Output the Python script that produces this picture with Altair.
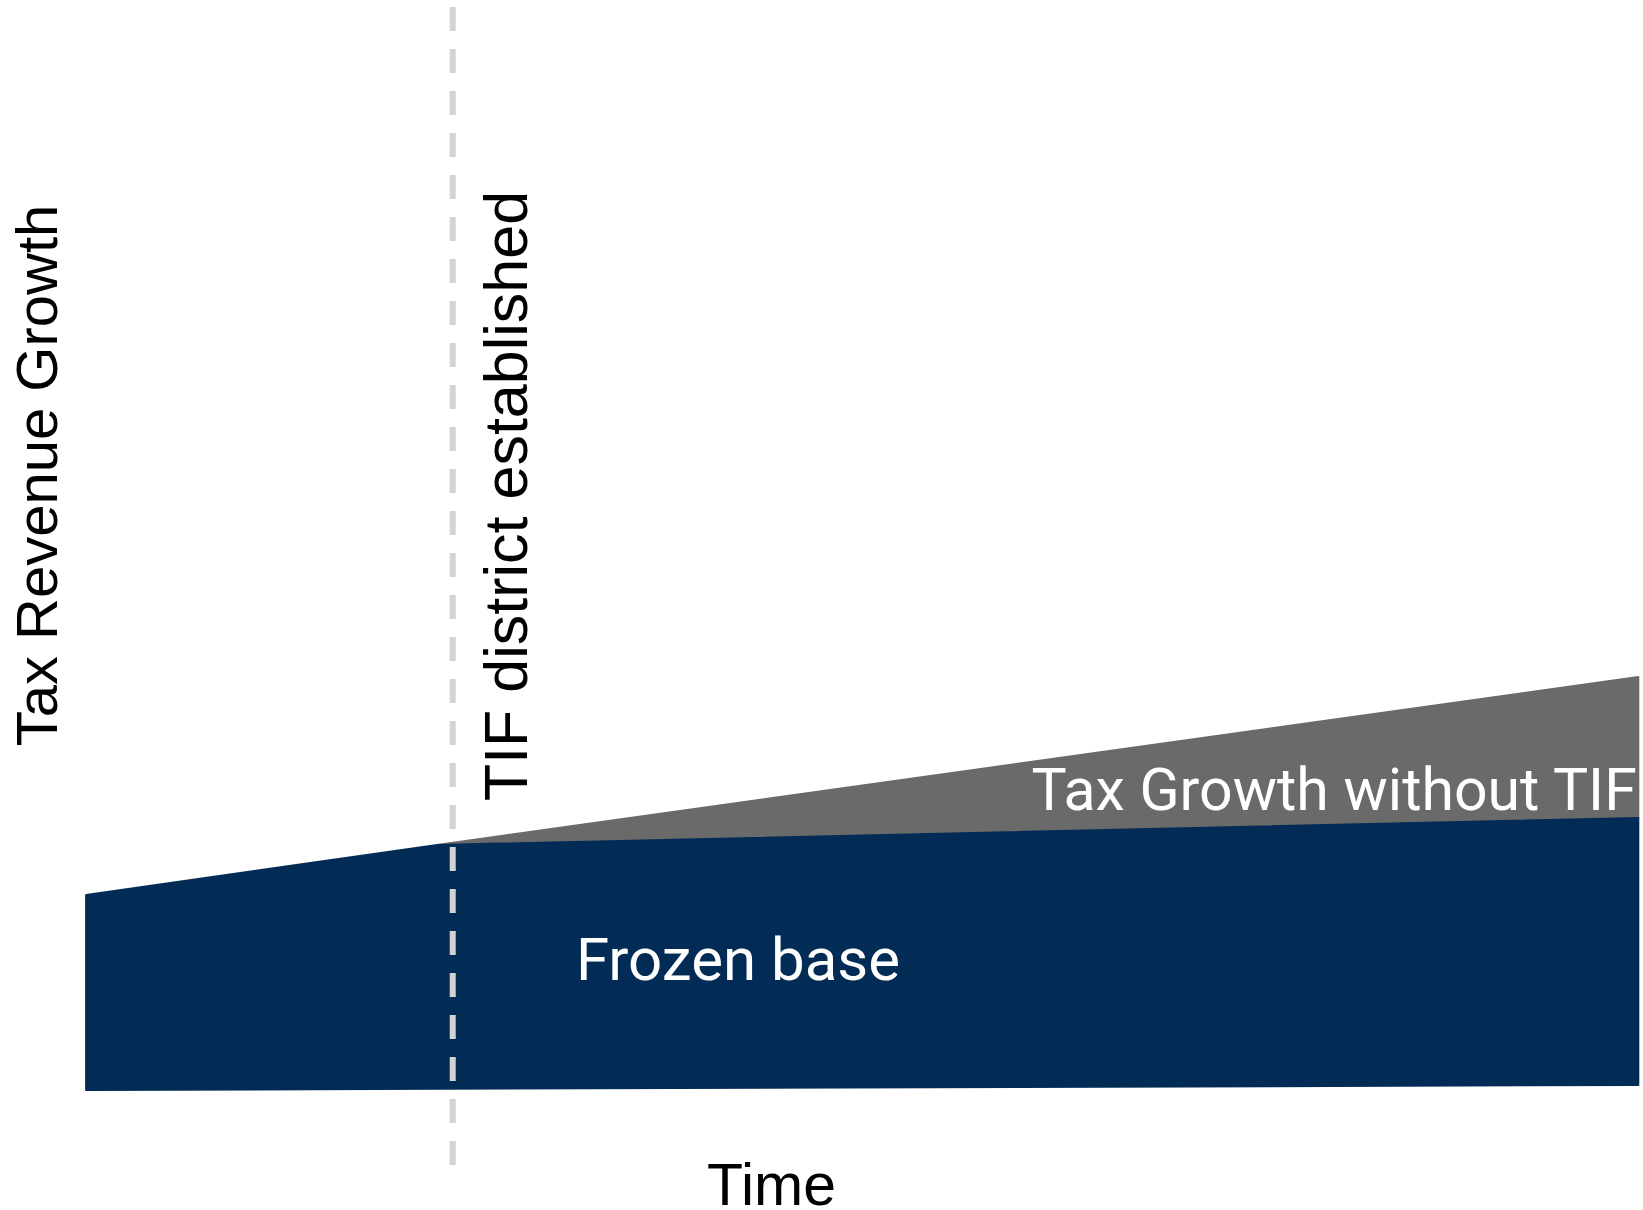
import altair as alt
import pandas as pd

# Schematic values (time units, revenue units)
time_pts = [0.02, 2.27, 9.97]
base_bottom = [0.0, 0.06, 0.25]
base_top = [9.75, 12.25, 13.6]
growth_time = [2.27, 9.97]
growth_low = [12.25, 13.6]
growth_high = [12.25, 20.65]
tif_time = [2.37]
tif_top = [54.15]
tif_bottom = [-3.75]

labels = ["Frozen base", "Tax Growth without TIF"]
label_t = [3.16, 9.96]
label_r = [5.5, 14.0]
label_align = ["left", "right"]

NAVY = "#022b55"
GRAY = "#6a6a6a"
DASH = "#d3d3d3"

x_scale = alt.Scale(domain=[0, 10], nice=False, zero=False)
y_scale = alt.Scale(domain=[0, 54.5], nice=False, zero=False)

base_df = pd.DataFrame({"t": time_pts, "lo": base_bottom, "hi": base_top})
growth_df = pd.DataFrame({"t": growth_time, "lo": growth_low, "hi": growth_high})
tif_df = pd.DataFrame({"t": tif_time, "top": tif_top, "bottom": tif_bottom,
                       "label": ["TIF district established"]})
lab_df = pd.DataFrame({"label": labels, "t": label_t, "r": label_r, "align": label_align})

x_enc = alt.X("t:Q", scale=x_scale,
              axis=alt.Axis(title="Time", labels=False, ticks=False, domain=False, grid=False,
                            titleFont="Liberation Sans", titleFontSize=59, titleFontWeight="normal",
                            titleColor="black", titleX=688, titleY=114,
                            titleBaseline="alphabetic", titleAlign="center"))
y_enc = alt.Y("lo:Q", scale=y_scale,
              axis=alt.Axis(title="Tax Revenue Growth", labels=False, ticks=False, domain=False,
                            grid=False, titleFont="Liberation Sans", titleFontSize=58,
                            titleFontWeight="normal", titleColor="black", titleX=-27, titleY=475,
                            titleBaseline="alphabetic", titleAlign="center", titleAngle=270))

base = alt.Chart(base_df).mark_area(color=NAVY, stroke=NAVY, strokeWidth=2,
                                    strokeJoin="round", interpolate="linear").encode(
    x=x_enc, y=y_enc, y2="hi:Q")

growth = alt.Chart(growth_df).mark_area(color=GRAY, stroke=GRAY, strokeWidth=2,
                                        strokeJoin="round", interpolate="linear").encode(
    x=alt.X("t:Q", scale=x_scale), y=alt.Y("lo:Q", scale=y_scale), y2="hi:Q")

rule = alt.Chart(tif_df).mark_rule(color=DASH, strokeWidth=6, strokeDash=[24, 18]).encode(
    x=alt.X("t:Q", scale=x_scale), y=alt.Y("top:Q", scale=y_scale), y2="bottom:Q")

tif_text = alt.Chart(tif_df).mark_text(angle=270, font="Liberation Sans", fontSize=61,
                                       color="black", align="center",
                                       baseline="alphabetic").encode(
    x=alt.value(527 - 83), y=alt.value(496), text="label:N")

frozen = alt.Chart(lab_df[lab_df["align"] == "left"]).mark_text(
    font="Roboto", fontSize=60, color="white", align="left", baseline="alphabetic").encode(
    x=alt.X("t:Q", scale=x_scale), y=alt.Y("r:Q", scale=y_scale), text="label:N")

growth_lab = alt.Chart(lab_df[lab_df["align"] == "right"]).mark_text(
    font="Roboto", fontSize=59, color="white", align="right", baseline="alphabetic").encode(
    x=alt.X("t:Q", scale=x_scale), y=alt.Y("r:Q", scale=y_scale), text="label:N")

chart = alt.layer(growth, base, rule, tif_text, frozen, growth_lab).properties(
    width=1560, height=1090,
    autosize=alt.AutoSizeParams(type="none"),
    padding={"left": 83, "top": 0, "right": 0, "bottom": 120},
    background="white",
).configure_view(stroke=None)

chart.save("out.html", embed_options={"renderer": "svg", "actions": False})
